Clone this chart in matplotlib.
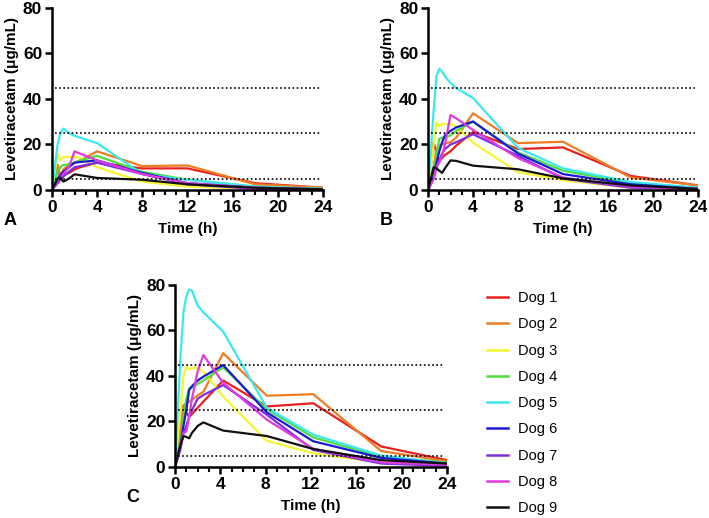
import matplotlib
matplotlib.use("Agg")
import matplotlib.pyplot as plt
import numpy as np
from matplotlib.ticker import MultipleLocator

plt.rcParams['font.family'] = ['Liberation Sans', 'DejaVu Sans']

dog_labels = ["Dog 1", "Dog 2", "Dog 3", "Dog 4", "Dog 5", "Dog 6", "Dog 7", "Dog 8", "Dog 9"]
dog_colors = ["#e8201e", "#f07c22", "#f5f531", "#4fdc3c", "#3be8f0",
              "#1a1ad6", "#7d2ee0", "#de3ce0", "#111111"]

# sampling times (h)
time_a = [0, 0.5, 0.75, 1, 1.25, 1.5, 2, 2.5, 4, 8, 12, 18, 24]
time_b = [0, 0.5, 0.75, 1, 1.25, 1.5, 2, 2.5, 4, 8, 12, 18, 24]
time_c = [0, 0.5, 0.75, 1, 1.25, 1.5, 2, 2.5, 4.25, 8.1, 12.2, 18.2, 24]

# panel A concentrations (ug/mL), one row per dog
conc_a = [
    [0, 11, 4.5, 6, 7, 7.5, 9, 10, 12, 9.5, 9.5, 3, 1],
    [0, 11, 6, 9, 10, 10.5, 12, 13, 17, 10.5, 10.8, 2.5, 1],
    [0, 16, 13, 14.5, 14.5, 14.5, 14.5, 14, 10, 3.7, 1.5, 0.5, 0.3],
    [0, 8, 10, 11, 11, 11.5, 12, 13, 15, 8, 4.5, 1.5, 0.5],
    [0, 20, 25, 27, 26, 25, 23.8, 23, 20.6, 7, 4.5, 1.5, 0.5],
    [0, 5, 6.5, 8, 9, 10, 12, 12.3, 13, 7.5, 3, 1, 0.3],
    [0, 3, 4.5, 6, 7, 8, 10, 10.5, 12, 7, 2.5, 0.5, 0.2],
    [0, 4, 5.5, 7, 8.5, 10, 17, 16, 13, 7, 3, 1, 0.3],
    [0, 5, 5.5, 3.7, 4.3, 5, 6.9, 6.5, 5.3, 4.5, 2.5, 1, 0.3],
]

# panel B concentrations
conc_b = [
    [0, 21, 16, 13, 14, 15.4, 17, 19.5, 25.5, 18, 18.7, 6.2, 2],
    [0, 10, 18, 19.5, 20, 20.5, 21, 23, 33.7, 20.6, 21.2, 5.5, 2],
    [0, 20, 29.7, 28, 29, 29, 28.9, 28, 20.8, 7.8, 4.3, 1, 0.5],
    [0, 8, 15, 22.5, 23, 23, 24, 26, 30, 16.5, 8.5, 3, 1],
    [0, 35, 50, 53.3, 52, 50, 47, 44.8, 40.4, 18.5, 9.5, 3.5, 1],
    [0, 6, 12, 17, 21, 24, 26, 27.5, 30.1, 16, 7, 2.5, 0.5],
    [0, 5, 10, 13, 16, 18, 20, 21, 24.5, 15, 5, 1, 0.3],
    [0, 5, 10, 12, 15, 20, 33, 31.5, 26.4, 14, 5.5, 1.5, 0.5],
    [0, 10, 9.5, 8.5, 7.5, 9.5, 13, 12.8, 10.7, 9.1, 5.1, 2, 0.5],
]

# panel C concentrations
conc_c = [
    [0, 18, 27, 24, 22, 23.3, 26, 28.7, 38, 26.6, 28, 9, 3],
    [0, 15, 27, 28, 28.7, 29.5, 31.5, 33, 50, 31.3, 32, 7, 2.5],
    [0, 25, 40, 44, 43, 43.5, 43.5, 42, 31, 11.5, 6, 2, 1],
    [0, 12, 22, 30, 34.6, 35, 36.5, 38, 43.8, 25.4, 13, 4.5, 2],
    [0, 50, 68, 75, 78, 77.5, 71, 68, 59.5, 26, 14.2, 5, 1.5],
    [0, 10, 18, 25, 33.8, 35.5, 38, 39.7, 44.8, 24, 11.3, 4, 1.5],
    [0, 8, 15, 18, 22, 25, 30, 31.6, 36, 23, 7.5, 1.5, 0.5],
    [0, 10, 15, 15.6, 22, 30, 42, 49.2, 37, 20.8, 8, 2, 1],
    [0, 10, 13.6, 13.2, 12.6, 15, 18, 19.6, 16, 13.6, 7.9, 3, 1.5],
]

ref_levels = [5, 25, 45]


def plot_panel(ax, t, conc, letter):
    for row, col in zip(conc, dog_colors):
        ax.plot(t, row, color=col, lw=1.6, solid_joinstyle='round')
    for lvl in ref_levels:
        ax.axhline(lvl, xmin=0.01, xmax=0.99, color='black', ls=(0, (1, 1.5)), lw=1.2)
    ax.set_xlim(0, 24)
    ax.set_ylim(0, 80)
    ax.xaxis.set_major_locator(MultipleLocator(4))
    ax.xaxis.set_minor_locator(MultipleLocator(1))
    ax.yaxis.set_major_locator(MultipleLocator(20))
    for s in ["top", "right"]:
        ax.spines[s].set_visible(False)
    for s in ["left", "bottom"]:
        ax.spines[s].set_linewidth(1.8)
    ax.tick_params(which='major', length=5, width=1.8, labelsize=12.5, pad=2)
    ax.tick_params(which='minor', length=3.5, width=1.5)
    for lab in ax.get_xticklabels() + ax.get_yticklabels():
        lab.set_fontweight('bold')
    ax.set_xlabel("Time (h)", fontsize=11, fontweight='bold', labelpad=5)
    ax.set_ylabel("Levetiracetam (\u03bcg/mL)", fontsize=11, fontweight='bold', labelpad=3)
    ax.text(-0.18, -0.165, letter, transform=ax.transAxes, fontsize=13,
            fontweight='bold', va='center', ha='left')


fig = plt.figure(figsize=(7.09, 5.18), dpi=100)
ax_a = fig.add_axes([0.0733, 0.6332, 0.382, 0.3514])
ax_b = fig.add_axes([0.6037, 0.6332, 0.381, 0.3514])
ax_c = fig.add_axes([0.2468, 0.0985, 0.3836, 0.3514])

plot_panel(ax_a, time_a, conc_a, "A")
plot_panel(ax_b, time_b, conc_b, "B")
plot_panel(ax_c, time_c, conc_c, "C")

handles = [plt.Line2D([], [], color=c, lw=1.8) for c in dog_colors]
fig.legend(handles, dog_labels, loc='upper left', bbox_to_anchor=(0.687, 0.438),
           frameon=False, fontsize=10.5, handlelength=1.44, handletextpad=0.68,
           labelspacing=0.84, borderpad=0, borderaxespad=0)

fig.savefig("out.png", dpi=100)
